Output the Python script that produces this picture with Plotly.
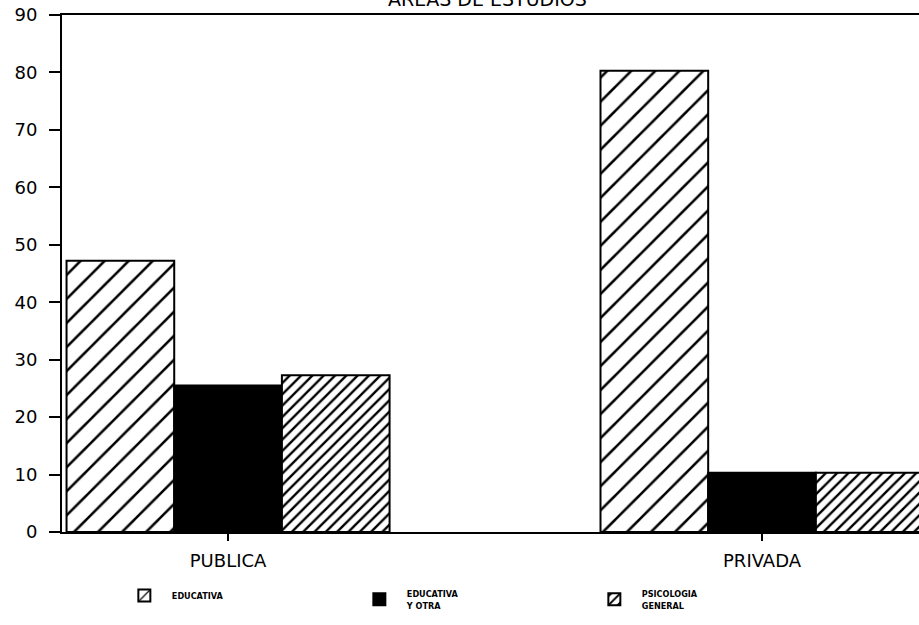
import plotly.graph_objects as go

categories = ["PUBLICA", "PRIVADA"]
educativa = [47.2, 80.3]
educativa_otra = [25.5, 10.3]
psicologia_general = [27.3, 10.3]
series_names = ["EDUCATIVA", "EDUCATIVA<br>Y OTRA", "PSICOLOGIA<br>GENERAL"]
y_ticks = [0, 10, 20, 30, 40, 50, 60, 70, 80, 90]
title_text = "AREAS DE ESTUDIOS"

fig = go.Figure()
fig.add_trace(go.Bar(
    x=categories, y=educativa, name=series_names[0],
    marker=dict(color="white", line=dict(color="black", width=2),
                pattern=dict(shape="/", size=17, solidity=0.15, fgcolor="black", fgopacity=1,
                             bgcolor="white", fillmode="replace")),
))
fig.add_trace(go.Bar(
    x=categories, y=educativa_otra, name=series_names[1],
    marker=dict(color="black", line=dict(color="black", width=2)),
))
fig.add_trace(go.Bar(
    x=categories, y=psicologia_general, name=series_names[2],
    marker=dict(color="white", line=dict(color="black", width=2),
                pattern=dict(shape="/", size=8, solidity=0.3, fgcolor="black", fgopacity=1,
                             bgcolor="white", fillmode="replace")),
))

fig.update_layout(
    width=919, height=625,
    margin=dict(l=62, r=0, t=15, b=93, autoexpand=False),
    paper_bgcolor="white", plot_bgcolor="white",
    barmode="group", bargap=0.395, bargroupgap=0.0,
    font=dict(family="DejaVu Sans", color="black"),
    showlegend=True,
    legend=dict(
        orientation="h", x=0.064, y=-0.095, xanchor="left", yanchor="top",
        entrywidth=175, entrywidthmode="pixels",
        font=dict(family="DejaVu Sans Condensed", size=9, color="black", weight="bold"),
        bgcolor="rgba(0,0,0,0)", itemwidth=45,
    ),
    annotations=[dict(
        text=title_text, xref="paper", yref="paper", x=0.497, y=1,
        xanchor="center", yanchor="bottom", yshift=3, showarrow=False,
        font=dict(family="DejaVu Sans", size=19, color="black"),
    )],
)
fig.update_xaxes(
    range=[-0.311, 1.294], showline=True, linecolor="black", linewidth=2, mirror=True,
    ticks="outside", ticklen=7, tickwidth=2, tickcolor="black", ticklabelstandoff=4,
    tickfont=dict(family="DejaVu Sans", size=18, color="black"),
    showgrid=False, zeroline=False, automargin=False,
)
fig.update_yaxes(
    range=[0, 90], tickvals=y_ticks, showline=True, linecolor="black", linewidth=2, mirror=True,
    ticks="outside", ticklen=11, tickwidth=2, tickcolor="black", ticklabelstandoff=8,
    tickfont=dict(family="DejaVu Sans", size=18, color="black"),
    showgrid=False, zeroline=False, automargin=False,
)

fig.write_html("out.html", config={"displayModeBar": False},
               post_script="document.body.style.margin='0';")
